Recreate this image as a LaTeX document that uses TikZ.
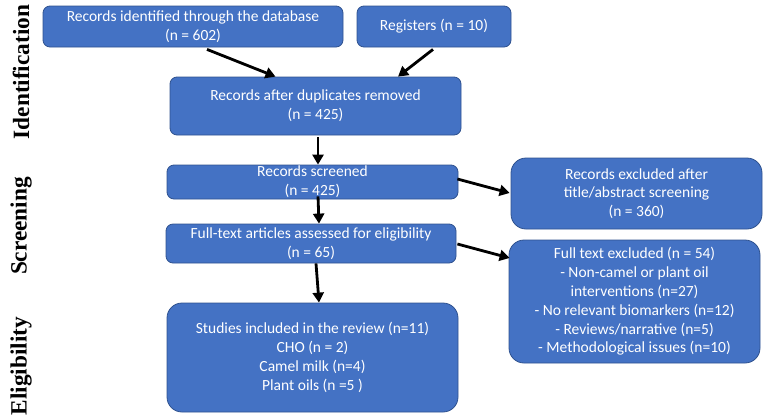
\documentclass[tikz,border=0pt]{standalone}
\usepackage{fontspec}
\setmainfont{Carlito}
\newfontfamily\labelfont{Liberation Serif}
\usetikzlibrary{calc,arrows.meta}
\definecolor{boxfill}{HTML}{4472C4}
\definecolor{boxline}{HTML}{2F528F}
\tikzset{
  box/.style={draw=boxline, line width=0.8pt, fill=boxfill, text=white, rounded corners=7pt,
    align=center, inner sep=0pt, font=\fontsize{15.5}{18.8}\selectfont},
  bigbox/.style={box, rounded corners=15pt},
  arr/.style={line width=2.8pt, -{Triangle[length=10pt,width=11pt]}},
  stage/.style={rotate=90, font=\labelfont\bfseries\fontsize{23.3}{24}\selectfont}
}
\begin{document}
\begin{tikzpicture}[x=1pt,y=-1pt]
\useasboundingbox (0,0) rectangle (767,418);
\node[stage] (l1) at (21,72) {Identification};
\node[stage] (l2) at (21,226) {Screening};
\node[stage] (l3) at (21,366) {Eligibility};

\node[box, minimum width=300pt, minimum height=41pt] (b1) at (193,26.5) {Records identified through the database\\(n = 602)};
\node[box, minimum width=154pt, minimum height=41pt] (b2) at (434,26.5) {Registers (n = 10)};
\node[box, minimum width=291pt, minimum height=58pt] (b3) at (315.5,106) {Records after duplicates removed\\(n = 425)};
\node[box, minimum width=291pt, minimum height=34pt] (b4) at (312.5,182) {Records screened\\(n = 425)};
\node[bigbox, minimum width=251pt, minimum height=71pt] (b5) at (636.5,193.5) {Records excluded after\\title/abstract screening\\(n = 360)};
\node[box, minimum width=290pt, minimum height=39pt] (b6) at (311,243.5) {Full-text articles assessed for eligibility\\(n = 65)};
\node[bigbox, minimum width=251pt, minimum height=123pt] (b7) at (634.5,301.5) {Full text excluded (n = 54)\\- Non-camel or plant oil\\interventions (n=27)\\- No relevant biomarkers (n=12)\\- Reviews/narrative (n=5)\\- Methodological issues (n=10)};
\node[bigbox, minimum width=291pt, minimum height=109pt] (b8) at (312.5,357.5) {Studies included in the review (n=11)\\CHO (n = 2)\\Camel milk (n=4)\\Plant oils (n =5 )};

\draw[arr] ($(b1.south)+(14,2)$) -- ($(b3.north)+(-40,0)$);
\draw[arr] ($(b2.south)+(-1,2)$) -- ($(b3.north)+(82.5,0)$);
\draw[arr] ($(b3.south)+(2.5,2)$) -- ($(b4.north)+(5.5,0)$);
\draw[arr] ($(b4.south)+(5.5,-3)$) -- ($(b6.north)+(8,0)$);
\draw[arr] ($(b4.east)+(-1,-3)$) -- ($(b5.west)+(-1,-0.5)$);
\draw[arr] ($(b6.east)+(1,0.5)$) -- ($(b7.west)+(1,-43.5)$);
\draw[arr] ($(b6.south)+(5,0)$) -- ($(b8.north)+(6.5,0)$);
\end{tikzpicture}
\end{document}
